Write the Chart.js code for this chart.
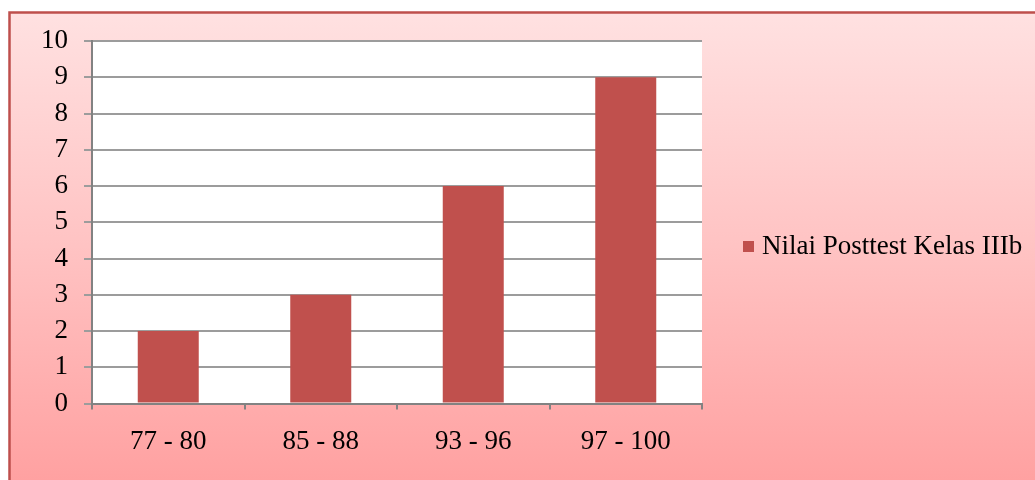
<!DOCTYPE html>
<html lang="id">
<head>
    <meta charset="UTF-8">
    <title>Nilai Posttest Kelas IIIb</title>
    <style>
        html, body { margin: 0; padding: 0; background: #fff; }
        canvas { display: block; }
    </style>
</head>
<body>
    <canvas id="myChart" width="1035" height="480"></canvas>
    <script src="https://cdn.jsdelivr.net/npm/chart.js@4.4.1/dist/chart.umd.min.js"></script>
    <script>
        var categories = ['77 - 80', '85 - 88', '93 - 96', '97 - 100'];
        var values = [2, 3, 6, 9];
        var seriesName = 'Nilai Posttest Kelas IIIb';
        var yMin = 0, yMax = 10, yStep = 1;

        var gridColor = '#9c9c9c';
        var axisColor = '#828282';
        var fontFamily = '"Liberation Serif", "Times New Roman", serif';
        var font = { family: fontFamily, size: 27 };

        // pink gradient frame behind everything, white plot area
        var frame = {
            id: 'frame',
            beforeDraw: function (chart) {
                var ctx = chart.ctx;
                var a = chart.chartArea;
                ctx.save();
                ctx.fillStyle = '#fff';
                ctx.fillRect(0, 0, chart.width, chart.height);
                var g = ctx.createLinearGradient(0, 12, 0, chart.height);
                g.addColorStop(0, '#ffe1e1');
                g.addColorStop(0.5, '#ffc3c3');
                g.addColorStop(1, '#ffa1a1');
                ctx.fillStyle = g;
                ctx.fillRect(9, 12, chart.width - 9, chart.height - 12);
                ctx.strokeStyle = '#be4f4c';
                ctx.lineWidth = 2.5;
                ctx.beginPath();
                ctx.moveTo(9.5, chart.height + 2);
                ctx.lineTo(9.5, 12.5);
                ctx.lineTo(chart.width + 2, 12.5);
                ctx.stroke();
                ctx.fillStyle = '#fff';
                ctx.fillRect(a.left, a.top, a.right - a.left, a.bottom - a.top);
                ctx.restore();
            }
        };

        // legend to the right of the plot, one entry per dataset
        var sideLegend = {
            id: 'sideLegend',
            afterDraw: function (chart) {
                var ctx = chart.ctx;
                ctx.save();
                ctx.font = font.size + 'px ' + fontFamily;
                ctx.textBaseline = 'middle';
                chart.data.datasets.forEach(function (ds, i) {
                    var y = 246 + i * 34;
                    ctx.fillStyle = ds.backgroundColor;
                    ctx.fillRect(743, y - 5, 11, 11);
                    ctx.fillStyle = '#000';
                    ctx.fillText(ds.label, 762, y + 1);
                });
                ctx.restore();
            }
        };

        var chart = new Chart(document.getElementById('myChart'), {
            type: 'bar',
            data: {
                labels: categories,
                datasets: [{
                    label: seriesName,
                    data: values,
                    backgroundColor: '#c0504d',
                    borderWidth: 0,
                    barPercentage: 0.4,
                    categoryPercentage: 1
                }]
            },
            options: {
                responsive: false,
                animation: false,
                layout: { padding: { left: 25, top: 41, bottom: 6, right: 333 } },
                plugins: {
                    tooltip: { enabled: false },
                    legend: { display: false }
                },
                scales: {
                    x: {
                        grid: {
                            offset: true,
                            drawOnChartArea: false,
                            color: axisColor,
                            lineWidth: 2,
                            tickLength: 6
                        },
                        border: { color: axisColor, width: 2 },
                        ticks: { color: '#000', font: font, padding: 16, maxRotation: 0 }
                    },
                    y: {
                        min: yMin,
                        max: yMax,
                        grid: { color: gridColor, lineWidth: 2, tickLength: 8 },
                        border: { color: axisColor, width: 2 },
                        ticks: { stepSize: yStep, autoSkip: false, color: '#000', font: font, padding: 16 }
                    }
                }
            },
            plugins: [frame, sideLegend]
        });
    </script>
</body>
</html>
